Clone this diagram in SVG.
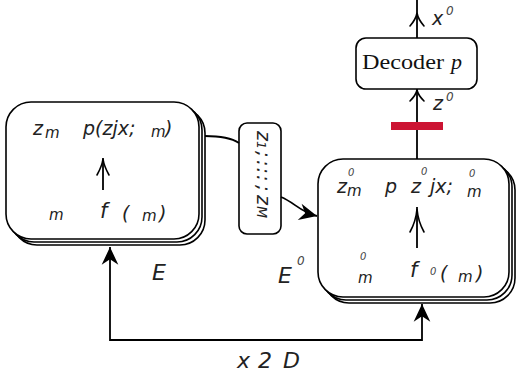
<svg xmlns="http://www.w3.org/2000/svg" width="516" height="373" viewBox="0 0 516 373">
<style>
  .box { fill: #fff; stroke: #000; stroke-width: 1.6; }
  .ln { fill: none; stroke: #000; stroke-width: 1.8; }
  .v { fill: none; stroke: #000; stroke-width: 1.6; stroke-linecap: round; }
  .t { font-family: "DejaVu Sans", "Liberation Sans", sans-serif; font-style: italic; font-size: 19px; fill: #222; }
  .s { font-family: "DejaVu Sans", "Liberation Sans", sans-serif; font-style: italic; font-size: 15px; fill: #222; }
  .sup { font-family: "DejaVu Sans", "Liberation Sans", sans-serif; font-style: italic; font-size: 10px; fill: #444; }
  .big { font-family: "DejaVu Sans", "Liberation Sans", sans-serif; font-style: italic; font-size: 22px; fill: #222; }
  .serif { font-family: "Liberation Serif", "Times New Roman", serif; font-size: 22px; fill: #111; }
</style>
<defs>
  <marker id="stealth" markerUnits="userSpaceOnUse" markerWidth="20" markerHeight="20" viewBox="-17 -9 18 18" refX="0" refY="0" orient="auto-start-reverse">
    <path d="M0,0 L-16,-7.5 L-11,0 L-16,7.5 Z" fill="#000"/>
  </marker>
</defs>

<g id="encoder-E">
  <rect class="box" x="12" y="108" width="193" height="137" rx="25"/>
  <rect class="box" x="9" y="105" width="193" height="137" rx="25"/>
  <rect class="box" x="6" y="102" width="193" height="137" rx="25"/>
  <text class="t" x="33" y="135">z</text>
  <text class="s" x="45" y="138">m</text>
  <text class="t" x="83" y="135">p(zjx;</text>
  <text class="s" x="151" y="137">m</text>
  <text class="t" x="165" y="135">)</text>
  <path class="ln" d="M103,190 V158"/>
  <path class="v" d="M97,175 Q102,166 103,159 Q104,166 109,175"/>
  <text class="s" x="49" y="220">m</text>
  <text class="t" x="100" y="218" style="font-size:21px">f</text>
  <text class="t" x="122" y="220">(</text>
  <text class="s" x="142" y="221">m</text>
  <text class="t" x="159" y="220">)</text>
</g>

<g id="latents">
  <rect class="box" x="239" y="123" width="42" height="111" rx="8"/>
  <text transform="rotate(90)" class="t" y="-257"><tspan x="131">z</tspan><tspan x="141" class="s" style="font-size:13px">1</tspan><tspan x="151">;</tspan><tspan x="160">:</tspan><tspan x="167.5">:</tspan><tspan x="175">:</tspan><tspan x="185">;</tspan><tspan x="195">z</tspan><tspan x="206" class="s" style="font-size:14px">M</tspan></text>
</g>

<g id="encoder-E-prime">
  <rect class="box" x="324" y="165" width="191" height="138" rx="25"/>
  <rect class="box" x="321" y="162" width="191" height="138" rx="25"/>
  <rect class="box" x="318" y="159" width="191" height="138" rx="25"/>
  <text class="t" x="337" y="193">z</text>
  <text class="sup" x="348" y="176">0</text>
  <text class="s" x="347" y="196">m</text>
  <text class="t" x="385" y="193">p</text>
  <text class="t" x="411" y="193">z</text>
  <text class="sup" x="421" y="175">0</text>
  <text class="t" x="430" y="193">jx;</text>
  <text class="sup" x="469" y="177">0</text>
  <text class="s" x="467" y="197">m</text>
  <path class="ln" d="M417,248 V207"/>
  <path class="v" d="M410,232 Q416,221 417,209 Q418,221 424,232"/>
  <text class="sup" x="360" y="260">0</text>
  <text class="s" x="358" y="283">m</text>
  <text class="t" x="410" y="277" style="font-size:21px">f</text>
  <text class="sup" x="430" y="275">0</text>
  <text class="t" x="440" y="280">(</text>
  <text class="s" x="458" y="282">m</text>
  <text class="t" x="476" y="280">)</text>
</g>

<g id="decoder">
  <rect class="box" x="356" y="38" width="121" height="51" rx="10"/>
  <text class="serif" x="362" y="69" textLength="82" lengthAdjust="spacingAndGlyphs">Decoder</text>
  <text class="serif" x="451" y="69" style="font-style:italic">p</text>
</g>

<g id="labels">
  <text class="big" x="152" y="280">E</text>
  <text class="big" x="278" y="283">E</text>
  <text class="sup" x="297" y="265" style="font-size:12px">0</text>
  <text class="big" x="237" y="368">x</text>
  <text class="big" x="258" y="368">2</text>
  <text class="big" x="283" y="368">D</text>
  <text class="t" x="432" y="25">x</text>
  <text class="sup" x="446" y="15" style="font-size:12px">0</text>
  <text class="t" x="433" y="110">z</text>
  <text class="sup" x="446" y="101" style="font-size:12px">0</text>
</g>

<g id="connectors">
  <path class="ln" d="M205,136 C222,136 233,139 239,143"/>
  <path class="ln" d="M281,197 C294,202 300,212 317,216" marker-end="url(#stealth)"/>
  <path class="ln" d="M110,247 V340 H422 V304" marker-start="url(#stealth)" marker-end="url(#stealth)"/>
  <path class="ln" d="M417,159 V89"/>
  <path class="v" d="M410,101 Q416,95 417,90 Q418,95 424,101"/>
  <path class="ln" d="M417,38 V0"/>
  <path class="v" d="M410,26 Q416,19 417,13 Q418,19 424,26"/>
  <rect x="391" y="122" width="52" height="8" fill="#cc1433"/>
</g>
</svg>
